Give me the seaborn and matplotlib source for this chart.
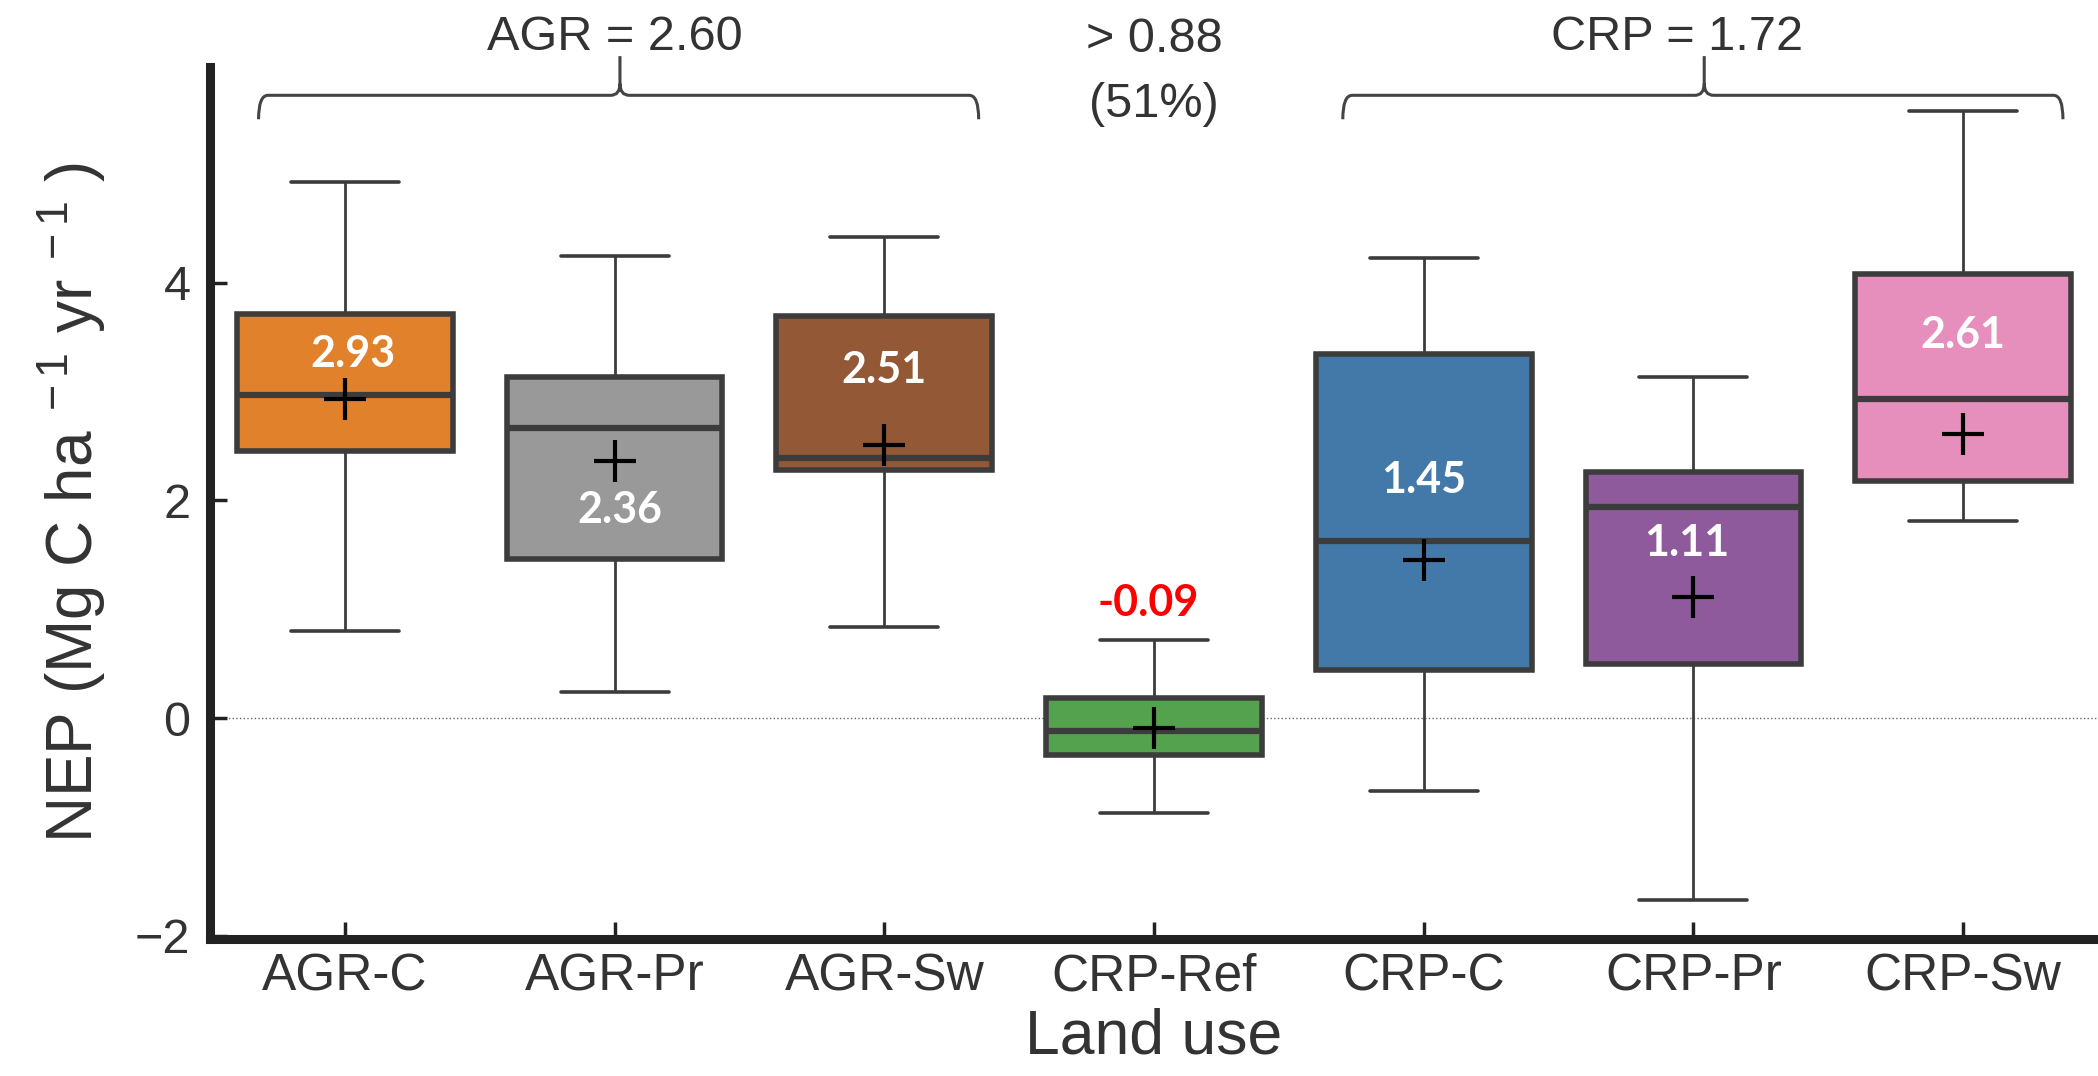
import numpy as np
import pandas as pd
import matplotlib
matplotlib.use("Agg")
import matplotlib.pyplot as plt
from matplotlib.path import Path
from matplotlib.patches import PathPatch
import seaborn as sns

# 데이터
categories = ['AGR-C', 'AGR-Pr', 'AGR-Sw', 'CRP-Ref', 'CRP-C', 'CRP-Pr', 'CRP-Sw']
whisker_low = [0.80, 0.24, 0.84, -0.87, -0.67, -1.67, 1.81]
q1 = [2.45, 1.46, 2.28, -0.34, 0.44, 0.50, 2.18]
medians = [2.97, 2.66, 2.39, -0.12, 1.63, 1.94, 2.93]
q3 = [3.71, 3.13, 3.69, 0.18, 3.34, 2.26, 4.08]
whisker_high = [4.92, 4.24, 4.42, 0.72, 4.23, 3.13, 5.58]
means = [2.93, 2.36, 2.51, -0.09, 1.45, 1.11, 2.61]
box_colors = ['#e1812c', '#999999', '#935836', '#55a24e', '#4379a8', '#8e5a9b', '#e68fbc']
agr_text = 'AGR = 2.60'
ref_text = ['> 0.88', '(51%)']
crp_text = 'CRP = 1.72'

# 5개 요약값으로 긴 형태 데이터프레임 구성
rows = []
for i, cat in enumerate(categories):
    for v in (whisker_low[i], q1[i], medians[i], q3[i], whisker_high[i]):
        rows.append({'land_use': cat, 'NEP': v})
df = pd.DataFrame(rows)

sns.set_style('ticks')
plt.rcParams['font.family'] = ['Liberation Sans', 'DejaVu Sans']
plt.rcParams['mathtext.fontset'] = 'custom'
plt.rcParams['mathtext.rm'] = 'Liberation Sans'
plt.rcParams['mathtext.it'] = 'Liberation Sans'

fig = plt.figure(figsize=(20.98, 10.76), dpi=100)
ax = fig.add_axes([210 / 2098, 137 / 1076, 1 - 210 / 2098, 872 / 1076])

line_c = '#3c3c3c'
sns.boxplot(data=df, x='land_use', y='NEP', hue='land_use', order=categories,
            palette=dict(zip(categories, box_colors)), saturation=1, legend=False,
            whis=(0, 100), width=0.8, linecolor=line_c, linewidth=2,
            boxprops=dict(linewidth=4), medianprops=dict(linewidth=4.5, color=line_c),
            capprops=dict(linewidth=2.6), whiskerprops=dict(linewidth=2), ax=ax)

xs = np.arange(len(categories))
ax.scatter(xs, means, marker='+', s=950, linewidths=3, color='black', zorder=5)
ax.axhline(0, color='#666666', lw=1, ls=':', zorder=0)

# 평균값 라벨
label_y = [3.34, 1.91, 3.20, 1.06, 2.19, 1.61, 3.52]
label_dx = [0.03, 0.02, 0, -0.02, 0, -0.025, 0]
for i, m in enumerate(means):
    col = 'red' if m < 0 else 'white'
    ax.text(xs[i] + label_dx[i], label_y[i], f'{m:.2f}', ha='center', va='center',
            color=col, fontsize=31, fontweight='bold', family=['Lato', 'DejaVu Sans'], zorder=6)


def brace(ax, x0, x1, xm, y, h_end, h_tip, r=0.035):
    verts = [(x0, y - h_end), (x0, y), (x0 + r, y),
             (xm - r, y), (xm, y), (xm, y + h_tip * 0.3), (xm, y + h_tip),
             (xm, y + h_tip * 0.3), (xm, y), (xm + r, y),
             (x1 - r, y), (x1, y), (x1, y - h_end)]
    codes = [Path.MOVETO, Path.CURVE3, Path.CURVE3,
             Path.LINETO, Path.CURVE3, Path.CURVE3, Path.LINETO,
             Path.MOVETO, Path.CURVE3, Path.CURVE3,
             Path.LINETO, Path.CURVE3, Path.CURVE3]
    ax.add_patch(PathPatch(Path(verts, codes), fill=False, lw=2.2, ec='#444444', clip_on=False))


brace(ax, -0.32, 2.35, 1.02, 5.72, 0.22, 0.36)
brace(ax, 3.70, 6.37, 5.04, 5.72, 0.22, 0.36)

txt_c = '#333333'
ax.text(1.0, 6.14, agr_text, ha='center', va='baseline', fontsize=35, color=txt_c)
ax.text(4.94, 6.14, crp_text, ha='center', va='baseline', fontsize=35, color=txt_c)
ax.text(3.0, 6.12, ref_text[0], ha='center', va='baseline', fontsize=35, color=txt_c)
ax.text(3.0, 5.52, ref_text[1], ha='center', va='baseline', fontsize=35, color=txt_c)

ax.set_xlim(-0.5, 6.5)
ax.set_ylim(-2.03, 5.98)
ax.set_yticks([-2, 0, 2, 4])
ax.set_yticklabels(['\u22122', '0', '2', '4'])
for s in ['top', 'right']:
    ax.spines[s].set_visible(False)
for s in ['left', 'bottom']:
    ax.spines[s].set_linewidth(6.5)
    ax.spines[s].set_color('#222222')
ax.tick_params(axis='both', direction='in', length=12, width=2.5, color='#222222')
ax.tick_params(axis='x', labelsize=37, pad=10, labelcolor='#333333')
ax.tick_params(axis='y', labelsize=35, pad=14, labelcolor='#333333')

ax.set_xlabel('Land use', fontsize=45, color='#333333', labelpad=4)
ax.set_ylabel('NEP (Mg C ha$^{\\ -1}$ yr$^{\\ -1}$ )', fontsize=46, color='#333333')
ax.yaxis.set_label_coords(-0.054, 0.5)

fig.savefig('out.png', dpi=100)
